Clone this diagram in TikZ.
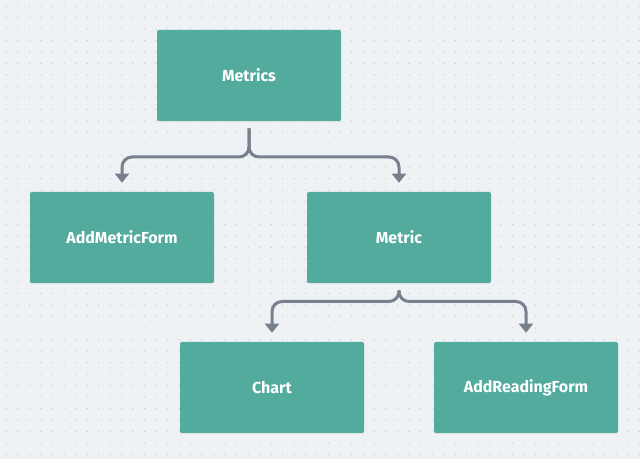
\documentclass[tikz,border=0pt]{standalone}
\usepackage{fontspec}
\setsansfont{Fira Sans}
\usepackage{tikz}
\usetikzlibrary{arrows.meta,shadows}
\definecolor{boardback}{RGB}{239,242,245}
\definecolor{boarddot}{RGB}{200,205,212}
\definecolor{compfill}{RGB}{82,171,157}
\definecolor{linkgray}{RGB}{118,129,141}

\tikzset{
comp/.style={fill=compfill,rounded corners=1.5pt,minimum width=138pt,minimum height=68.25pt,
  text=white,font=\sffamily\bfseries\fontsize{12}{14}\selectfont,inner sep=0pt,
  drop shadow={opacity=0.12,shadow xshift=0pt,shadow yshift=-0.75pt}},
link/.style={draw=linkgray,line width=2.25pt,rounded corners=7.5pt,-{Triangle[width=10.5pt,length=6.75pt]}}
}

\begin{document}
\begin{tikzpicture}[x=0.75pt,y=-0.75pt]
\fill[boardback] (0,0) rectangle (640,459);
\useasboundingbox (0,0) rectangle (640,459);
\foreach \i in {0,...,55}
  \foreach \j in {0,...,39}
    \fill[boarddot] (6.7+11.5*\i,6+11.5*\j) circle (0.56pt);

\node [comp] (metrics) at (249,75.5) {Metrics};
\node [comp] (addmetricform) at (122,237.5) {AddMetricForm};
\node [comp] (metric) at (399,237.5) {Metric};
\node [comp] (chart) at (272,387.5) {Chart};
\node [comp] (addreadingform) at (526,387.5) {AddReadingForm};

% split points under the parents
\coordinate (splittop) at (249,157);
\coordinate (splitlow) at (399,301.5);

\draw [link] ([yshift=-5.25pt]metrics.south) -- (splittop) -| ([yshift=6.75pt]addmetricform.north);
\draw [link] ([yshift=-5.25pt]metrics.south) -- (splittop) -| ([yshift=6.75pt]metric.north);
\draw [link] ([yshift=-5.25pt]metric.south) -- (splitlow) -| ([yshift=6.75pt]chart.north);
\draw [link] ([yshift=-5.25pt]metric.south) -- (splitlow) -| ([yshift=6.75pt]addreadingform.north);
\end{tikzpicture}
\end{document}
